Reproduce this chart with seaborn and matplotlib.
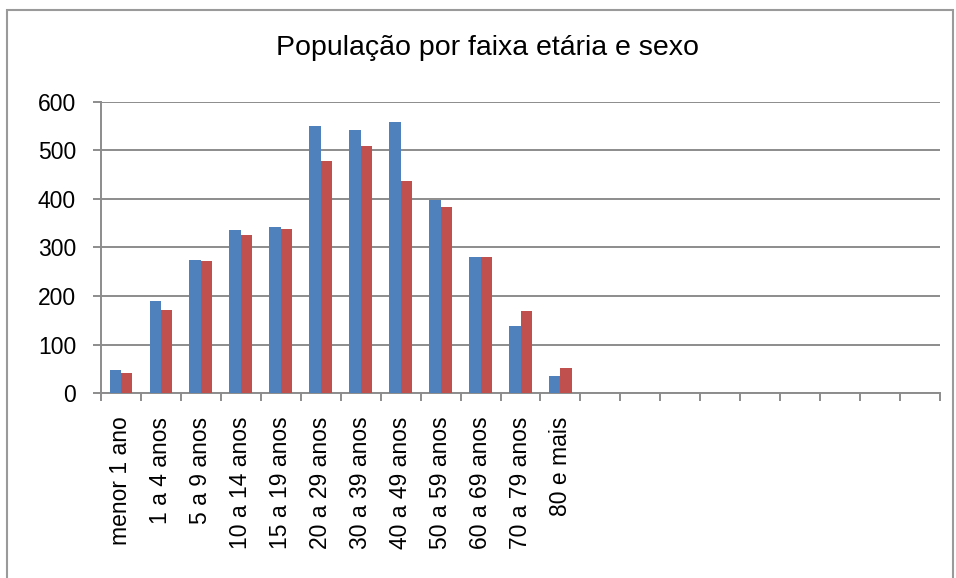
import matplotlib
matplotlib.use("Agg")
import matplotlib.pyplot as plt
import seaborn as sns
import pandas as pd
import numpy as np
from matplotlib.patches import Rectangle

categories = ["menor 1 ano", "1 a 4 anos", "5 a 9 anos", "10 a 14 anos", "15 a 19 anos",
              "20 a 29 anos", "30 a 39 anos", "40 a 49 anos", "50 a 59 anos",
              "60 a 69 anos", "70 a 79 anos", "80 e mais"]
masculino = [48, 190, 275, 337, 342, 550, 542, 558, 398, 281, 139, 36]
feminino = [42, 171, 272, 325, 338, 479, 510, 437, 384, 280, 170, 52]
series_names = ["Masculino", "Feminino"]
y_ticks = [0, 100, 200, 300, 400, 500, 600]
n_slots = 21

df = pd.DataFrame({
    "faixa": categories * 2,
    "pop": masculino + feminino,
    "sexo": [series_names[0]] * len(categories) + [series_names[1]] * len(categories),
})

sns.set_theme(style="white")
plt.rcParams['font.family'] = ['Liberation Sans', 'DejaVu Sans']

fig = plt.figure(figsize=(9.56, 5.78), dpi=100)
ax = fig.add_axes([101/956, 1 - 393/578, 839/956, 291/578])

sns.barplot(data=df, x="faixa", y="pop", hue="sexo", order=categories,
            palette=["#4F81BD", "#C0504D"], saturation=1, width=0.57, gap=0,
            edgecolor="none", linewidth=0, ax=ax, legend=False, zorder=3)

ax.set_xlim(-0.5, n_slots - 0.5)
ax.set_ylim(0, 600)
ax.set_yticks(y_ticks)
ax.set_yticklabels([str(v) for v in y_ticks], fontsize=16.5, color="black")
ax.yaxis.grid(True, color="#8c8c8c", linewidth=1.4, zorder=0)
ax.set_axisbelow(True)
ax.tick_params(axis="y", which="major", length=6, width=1.4, color="#8c8c8c",
               direction="out", left=True, pad=12)

ax.set_xticks(range(len(categories)))
ax.set_xticklabels(categories, rotation=90, fontsize=16.5, va="top", ha="center",
                   color="black")
ax.set_xticks(np.arange(-0.5, n_slots, 1.0), minor=True)
ax.tick_params(axis="x", which="major", length=0, pad=17)
ax.tick_params(axis="x", which="minor", length=6, width=1.4, color="#8c8c8c",
               direction="out", bottom=True)

for s in ["top", "right"]:
    ax.spines[s].set_visible(False)
for s in ["left", "bottom"]:
    ax.spines[s].set_color("#8c8c8c")
    ax.spines[s].set_linewidth(1.4)

ax.set_xlabel("")
ax.set_ylabel("")

fig.text(487/956, 1 - 48/578, "População por faixa etária e sexo",
         ha="center", va="center", fontsize=20.5, color="black")

fig.patches.append(Rectangle((7/956, -0.05), 946/956, 1.05 - 10/578,
                             transform=fig.transFigure, fill=False,
                             edgecolor="#9a9a9a", linewidth=1.5))

fig.savefig("out.png", dpi=100, facecolor="white")
